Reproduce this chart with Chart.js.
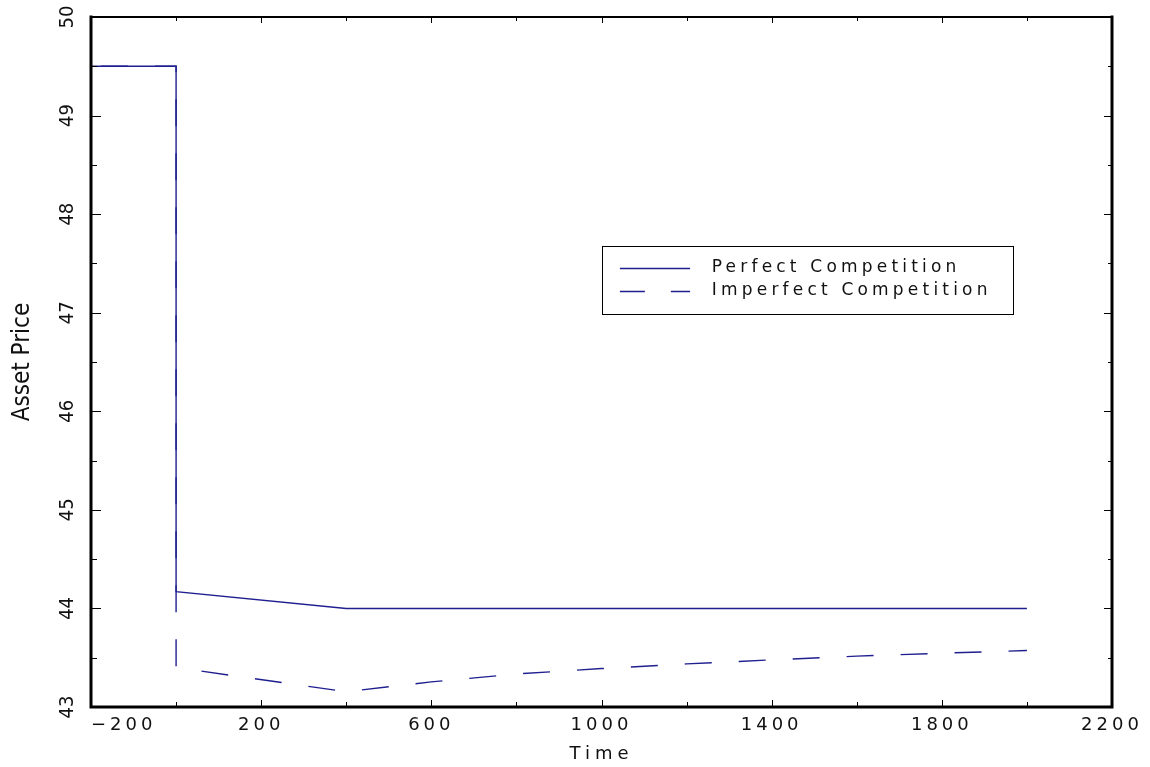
<!DOCTYPE html>
<html>
<head>
<meta charset="utf-8">
<style>
  html, body { margin: 0; padding: 0; background: #ffffff; }
  #wrap { width: 1150px; height: 767px; position: relative; }
</style>
<script src="https://cdn.jsdelivr.net/npm/chart.js@4/dist/chart.umd.min.js"></script>
</head>
<body>
<div id="wrap"><canvas id="c" width="1150" height="767"></canvas></div>
<script>
// ---- data ----
const perfectX = [-200, 0, 0, 400, 2000];
const perfectY = [49.5, 49.5, 44.17, 44.0, 44.0];
const imperfectX = [-200, 0, 0, 400, 600, 800, 1000, 1200, 1400, 1600, 1800, 2000];
const imperfectY = [49.5, 49.5, 43.40, 43.155, 43.255, 43.335, 43.39, 43.437, 43.478, 43.516, 43.546, 43.573];
const seriesNames = ['Perfect Competition', 'Imperfect Competition'];
const xTickValues = [-200, 200, 600, 1000, 1400, 1800, 2200];
const yTickValues = [43, 44, 45, 46, 47, 48, 49, 50];
const xTickMarks = [-200, 0, 200, 400, 600, 800, 1000, 1200, 1400, 1600, 1800, 2000, 2200];
const yTickMarks = [43, 43.5, 44, 44.5, 45, 45.5, 46, 46.5, 47, 47.5, 48, 48.5, 49, 49.5, 50];
const xTitle = 'Time';
const yTitle = 'Asset Price';

const LINE = '#1f1f8f';
const WIDE = "'DejaVu Sans', 'Liberation Sans', sans-serif";
const NARROW = "'Liberation Sans Narrow', 'DejaVu Sans Condensed', 'Liberation Sans', sans-serif";

function pts(xs, ys) { return xs.map((x, i) => ({ x: x, y: ys[i] })); }

const spacingPlugin = {
  id: 'spacing',
  afterLayout(chart) {
    const s = chart.scales.x;
    if (!s._lsPatched) {
      const dl = s.drawLabels, dt = s.drawTitle;
      s.drawLabels = function (ca) {
        const ctx = this.ctx; const prev = ctx.letterSpacing;
        ctx.letterSpacing = '4px'; dl.call(this, ca); ctx.letterSpacing = prev;
      };
      s.drawTitle = function () {
        const ctx = this.ctx; const prev = ctx.letterSpacing;
        ctx.letterSpacing = '5px'; dt.call(this); ctx.letterSpacing = prev;
      };
      s._lsPatched = true;
    }
  },
  beforeDraw(chart) {
    const items = chart.scales.x.getLabelItems();
    if (items && items.length) {
      items[0].textAlign = 'left';
      if (items[0].options) { items[0].options.textAlign = 'left'; }
    }
  }
};

const framePlugin = {
  id: 'frame',
  afterDatasetsDraw(chart) {
    const ctx = chart.ctx, ca = chart.chartArea;
    const xs = chart.scales.x, ys = chart.scales.y;
    ctx.save();
    ctx.strokeStyle = '#000';
    ctx.lineWidth = 1;
    ctx.beginPath();
    xTickMarks.forEach(v => {
      const px = Math.round(xs.getPixelForValue(v)) + 0.5;
      const len = xTickValues.includes(v) ? 7 : 5;
      ctx.moveTo(px, ca.bottom); ctx.lineTo(px, ca.bottom - len);
      ctx.moveTo(px, ca.top); ctx.lineTo(px, ca.top + len - 1);
    });
    yTickMarks.forEach(v => {
      const py = Math.round(ys.getPixelForValue(v)) + 0.5;
      const len = yTickValues.includes(v) ? 10 : 6;
      ctx.moveTo(ca.left, py); ctx.lineTo(ca.left + len, py);
      ctx.moveTo(ca.right, py); ctx.lineTo(ca.right - len + 2, py);
    });
    ctx.stroke();
    ctx.lineCap = 'square';
    ctx.lineWidth = 3;
    ctx.beginPath();
    ctx.moveTo(ca.left, ca.top); ctx.lineTo(ca.left, ca.bottom); ctx.lineTo(ca.right, ca.bottom); ctx.lineTo(ca.right, ca.top);
    ctx.stroke();
    ctx.lineWidth = 2;
    ctx.beginPath();
    ctx.moveTo(ca.left, ca.top); ctx.lineTo(ca.right, ca.top);
    ctx.stroke();
    ctx.restore();
  }
};

const legendPlugin = {
  id: 'boxLegend',
  afterDraw(chart) {
    const ctx = chart.ctx, ca = chart.chartArea;
    const w = ca.right - ca.left, h = ca.bottom - ca.top;
    const bx0 = ca.left + 0.5005 * w, bx1 = ca.left + 0.903 * w;
    const by0 = ca.top + 0.3314 * h, by1 = ca.top + 0.4304 * h;
    const rows = [ca.top + 0.3638 * h, ca.top + 0.3971 * h];
    const lx0 = ca.left + 0.518 * w, lx1 = ca.left + 0.5867 * w;
    const tx = ca.left + 0.608 * w;
    ctx.save();
    ctx.strokeStyle = '#000'; ctx.lineWidth = 1;
    ctx.strokeRect(Math.round(bx0) + 0.5, Math.round(by0) + 0.5, Math.round(bx1 - bx0), Math.round(by1 - by0));
    const dashes = [[], [25, 26]];
    rows.forEach((ry, i) => {
      ctx.strokeStyle = LINE; ctx.lineWidth = 1.3;
      ctx.setLineDash(dashes[i]);
      ctx.beginPath(); ctx.moveTo(lx0, Math.round(ry) + 0.5); ctx.lineTo(lx1, Math.round(ry) + 0.5); ctx.stroke();
      ctx.setLineDash([]);
      ctx.fillStyle = '#111';
      ctx.font = "17px " + WIDE;
      ctx.letterSpacing = '4.2px';
      ctx.textAlign = 'left'; ctx.textBaseline = 'middle';
      ctx.fillText(seriesNames[i], tx, ry);
    });
    ctx.restore();
  }
};

new Chart(document.getElementById('c'), {
  type: 'scatter',
  data: {
    datasets: [
      { label: seriesNames[0], data: pts(perfectX, perfectY), showLine: true, borderColor: LINE, borderWidth: 1.4, pointRadius: 0, fill: false, tension: 0 },
      { label: seriesNames[1], data: pts(imperfectX, imperfectY), showLine: true, borderColor: LINE, borderWidth: 1.4, borderDash: [27, 27], borderDashOffset: 44, pointRadius: 0, fill: false, tension: 0 }
    ]
  },
  options: {
    responsive: false,
    animation: false,
    devicePixelRatio: 1,
    layout: { padding: { left: 0, right: 38, top: 17, bottom: 0 } },
    plugins: { legend: { display: false }, tooltip: { enabled: false } },
    scales: {
      x: {
        type: 'linear', min: -200, max: 2200,
        afterBuildTicks: s => { s.ticks = xTickValues.map(v => ({ value: v })); },
        afterFit: s => { s.height = 60; s.paddingLeft = 0; s.paddingRight = 0; },
        grid: { display: false, drawTicks: false },
        border: { display: false },
        ticks: {
          autoSkip: false, maxRotation: 0, minRotation: 0, padding: 8, color: '#111',
          font: { family: WIDE, size: 18 },
          callback: v => (v < 0 ? '\u2212' + Math.abs(v) : String(v))
        },
        title: { display: true, text: xTitle, color: '#111', font: { family: WIDE, size: 18 }, padding: { top: 0, bottom: 2 } }
      },
      y: {
        type: 'linear', min: 43, max: 50,
        afterBuildTicks: s => { s.ticks = yTickValues.map(v => ({ value: v })); },
        afterFit: s => { s.width = 91; s.paddingTop = 0; s.paddingBottom = 0; },
        grid: { display: false, drawTicks: false },
        border: { display: false },
        ticks: {
          autoSkip: false, minRotation: 90, maxRotation: 90, crossAlign: 'center', padding: 12, color: '#111',
          font: { family: NARROW, size: 20 },
          callback: v => String(v)
        },
        title: { display: true, text: yTitle, color: '#111', font: { family: NARROW, size: 24 }, padding: { top: 8, bottom: 0 } }
      }
    }
  },
  plugins: [spacingPlugin, framePlugin, legendPlugin]
});
</script>
</body>
</html>
